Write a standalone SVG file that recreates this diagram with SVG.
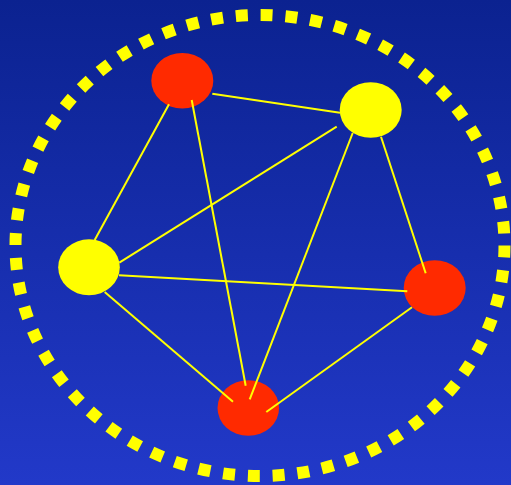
<svg xmlns="http://www.w3.org/2000/svg" width="511" height="485" viewBox="0 0 511 485">
<defs>
<linearGradient id="bg" x1="0" y1="0" x2="0" y2="1">
<stop offset="0" stop-color="#0B2290"/>
<stop offset="1" stop-color="#2239C9"/>
</linearGradient>
<style>
.ring{fill:none;stroke:#FFFF00;stroke-width:12;stroke-dasharray:12 12.88}
.red{fill:#FF2A00}
.yel{fill:#FFFF00}
.edge{stroke:#FFFF00;stroke-width:2;fill:none}
</style>
</defs>
<rect x="0" y="0" width="511" height="485" fill="url(#bg)"/>
<ellipse class="ring" cx="260" cy="245.5" rx="244.5" ry="230.5"/>
<g id="nodes">
<g id="n-top"><ellipse class="red" cx="182.3" cy="80.7" rx="31" ry="27.8"/></g>
<g id="n-topright"><ellipse class="yel" cx="370.7" cy="110" rx="31" ry="27.8"/></g>
<g id="n-left"><ellipse class="yel" cx="89" cy="267.3" rx="30.8" ry="28"/></g>
<g id="n-right"><ellipse class="red" cx="434.7" cy="288" rx="31" ry="27.8"/></g>
<g id="n-bottom"><ellipse class="red" cx="248.3" cy="408" rx="30.8" ry="27.8"/></g>
</g>
<g id="connectors">
<line class="edge" x1="212.3" y1="93.7" x2="340" y2="112.7"/>
<line class="edge" x1="169" y1="104.3" x2="94.7" y2="240"/>
<line class="edge" x1="191.7" y1="100" x2="245.7" y2="385.7"/>
<line class="edge" x1="336.7" y1="126.7" x2="119.3" y2="262.7"/>
<line class="edge" x1="352.7" y1="133" x2="249.7" y2="399.3"/>
<line class="edge" x1="381" y1="136.7" x2="425.7" y2="273.3"/>
<line class="edge" x1="119" y1="275.3" x2="407.3" y2="291.3"/>
<line class="edge" x1="104.7" y1="292" x2="233" y2="401.7"/>
<line class="edge" x1="412" y1="307.3" x2="266.3" y2="412"/>
</g>
</svg>
